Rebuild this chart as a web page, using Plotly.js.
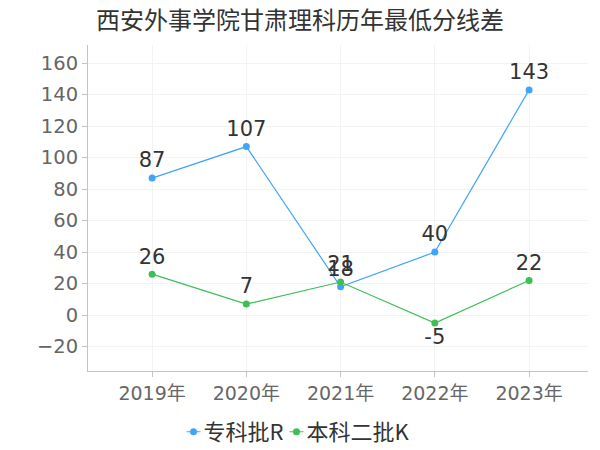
<!DOCTYPE html>
<html>
<head>
<meta charset="utf-8">
<script src="https://cdn.plot.ly/plotly-3.0.1.min.js"></script>
<style>html,body{margin:0;padding:0;background:#fff;}#chart{width:600px;height:450px;}</style>
</head>
<body>
<div id="chart"></div>
<script>
var categories = ["2019年", "2020年", "2021年", "2022年", "2023年"];
var seriesNames = ["专科批R", "本科二批K"];
var zhuankeValues = [87, 107, 18, 40, 143];
var benkeValues = [26, 7, 21, -5, 22];
var benkeLabelPos = ["top center", "top center", "top center", "bottom center", "top center"];

var font = '"DejaVu Sans", "Noto Sans CJK SC", sans-serif';
var cjk = '"Noto Sans CJK SC", "DejaVu Sans", sans-serif';
var traces = [
  {
    x: categories, y: zhuankeValues, name: seriesNames[0],
    type: "scatter", mode: "lines+markers+text",
    text: zhuankeValues.map(String), textposition: "top center",
    textfont: {size: 21, color: "#333", family: font},
    line: {color: "#40a4fb", width: 1.2},
    marker: {color: "#40a4fb", size: 7},
    cliponaxis: false
  },
  {
    x: categories, y: benkeValues, name: seriesNames[1],
    type: "scatter", mode: "lines+markers+text",
    text: benkeValues.map(String), textposition: benkeLabelPos,
    textfont: {size: 21, color: "#333", family: font},
    line: {color: "#3cbf55", width: 1.2},
    marker: {color: "#3cbf55", size: 7},
    cliponaxis: false
  }
];
var layout = {
  width: 600, height: 450,
  margin: {l: 88, r: 12, t: 45, b: 79, autoexpand: false},
  paper_bgcolor: "#fff", plot_bgcolor: "#fff",
  font: {family: font, color: "#666"},
  title: {text: "西安外事学院甘肃理科历年最低分线差", font: {size: 24, color: "#333", family: cjk}, x: 0.5, xanchor: "center", y: 0.955, yanchor: "middle"},
  xaxis: {
    type: "category", range: [-0.68, 4.625],
    showgrid: true, gridcolor: "#f3f3f3",
    showline: true, linecolor: "#c4c4c4", linewidth: 1,
    ticks: "outside", ticklen: 5, tickcolor: "#c4c4c4",
    tickfont: {size: 19, color: "#666", family: font},
    zeroline: false
  },
  yaxis: {
    range: [-35.5, 171.5], dtick: 20,
    showgrid: true, gridcolor: "#f3f3f3",
    showline: true, linecolor: "#c4c4c4", linewidth: 1,
    ticks: "outside", ticklen: 5, tickcolor: "#c4c4c4",
    tickfont: {size: 19.5, color: "#666", family: font},
    zeroline: false
  },
  showlegend: true,
  legend: {orientation: "h", x: 0.5, xanchor: "center", y: -0.187, yanchor: "middle", font: {size: 22, color: "#333", family: cjk}, itemwidth: 30, tracegroupgap: 0}
};
var gd = document.getElementById("chart");
Plotly.newPlot(gd, traces, layout, {displayModeBar: false, staticPlot: true}).then(function () {
  // compact legend symbols (short line + dot) like the reference
  var items = gd.querySelectorAll(".legend .traces");
  var shrink = 22;
  items.forEach(function (g, i) {
    g.querySelectorAll("path.js-line").forEach(function (p) { p.setAttribute("d", "M13,0h14"); });
    var t = g.querySelector("text.legendtext");
    if (t) t.setAttribute("x", 30);
    var m = /translate\(([-\d.]+)[ ,]*([-\d.]*)\)/.exec(g.getAttribute("transform") || "");
    if (m) g.setAttribute("transform", "translate(" + (parseFloat(m[1]) - shrink * i) + "," + (parseFloat(m[2] || 0)) + ")");
  });
  var leg = gd.querySelector(".legend");
  if (leg) {
    var m2 = /translate\(([-\d.]+)[ ,]*([-\d.]*)\)/.exec(leg.getAttribute("transform") || "");
    if (m2) leg.setAttribute("transform", "translate(" + (parseFloat(m2[1]) - 28) + "," + (parseFloat(m2[2] || 0)) + ")");
    var bg = leg.querySelector("rect.bg");
    if (bg) bg.setAttribute("fill-opacity", 0);
  }
});
</script>
</body>
</html>
